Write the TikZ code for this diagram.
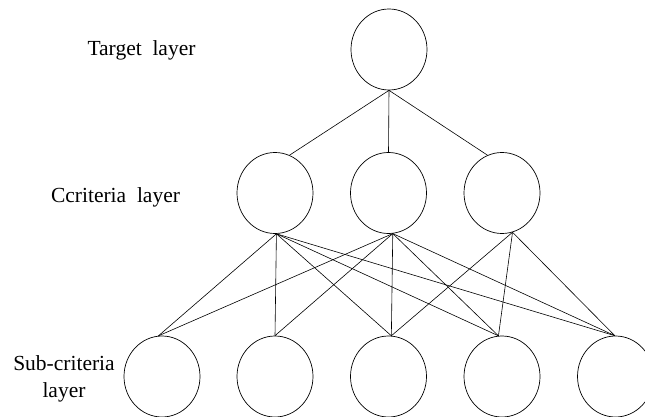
\documentclass[tikz,border=0pt]{standalone}
\usepackage{fontspec}
\setmainfont{Liberation Serif}
\usetikzlibrary{shapes.geometric}
\tikzset{
  x=1pt, y=-1pt,
  oval/.style={draw, ellipse, line width=0.7pt, minimum width=76pt, minimum height=81pt, inner sep=0pt},
  link/.style={line width=0.6pt},
  lbl/.style={font=\fontsize{21.5}{27}\selectfont, inner sep=0pt, align=center}
}
\begin{document}
\begin{tikzpicture}
\useasboundingbox (0,0) rectangle (645,417);
% nodes
\node[oval] (t) at (389,49.5) {};
\node[oval] (c1) at (275,193) {};
\node[oval] (c2) at (388.5,193) {};
\node[oval] (c3) at (502,193) {};
\node[oval] (s1) at (162,376.5) {};
\node[oval] (s2) at (275,376.5) {};
\node[oval] (s3) at (388.5,376.5) {};
\node[oval] (s4) at (502,376.5) {};
\node[oval] (s5) at (615.5,376.5) {};
% labels
\node[lbl] (lt) at (141.5,50) {Target\ \ layer};
\node[lbl] (lc) at (115.5,197) {Ccriteria\ \ layer};
\node[lbl] (ls) at (64,379) {Sub-criteria\\layer};
% connectors top -> criteria
\draw[link] (t.south) -- (c1.69);
\draw[link] (t.south) -- (c2.north);
\draw[link] (t.south) -- (c3.111);
% criteria -> sub-criteria
\coordinate (b1) at (c1.-88);
\coordinate (b2) at (c2.-84);
\coordinate (b3) at (c3.-75);
\coordinate (u1) at (s1.95);
\coordinate (u2) at (s2.north);
\coordinate (u3) at (s3.86);
\coordinate (u4) at (s4.95);
\coordinate (u5) at (s5.91);
\foreach \j in {1,...,5}{\draw[link] (b1) -- (u\j);}
\foreach \j in {1,...,5}{\draw[link] (b2) -- (u\j);}
\foreach \j in {3,4,5}{\draw[link] (b3) -- (u\j);}
\end{tikzpicture}
\end{document}
